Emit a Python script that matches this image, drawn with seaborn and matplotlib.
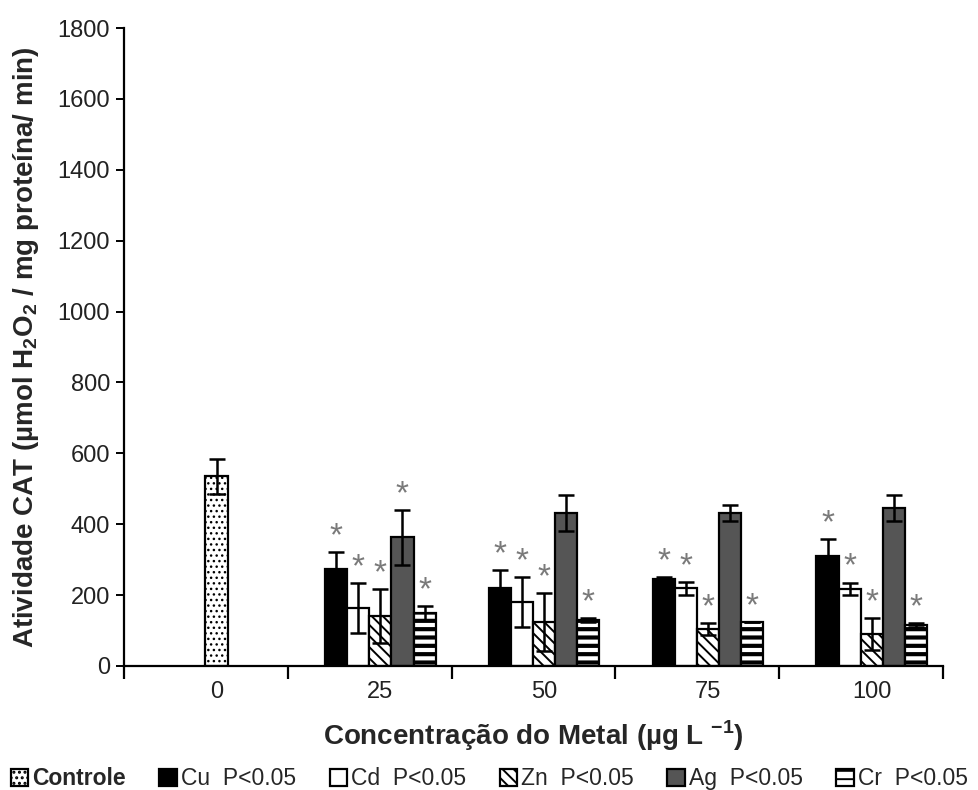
import numpy as np
import pandas as pd
import matplotlib
matplotlib.use("Agg")
import matplotlib.pyplot as plt
from matplotlib.patches import Patch
from matplotlib.ticker import FixedLocator, NullFormatter
import seaborn as sns

# ---------------- data ----------------
concentrations = ["0", "25", "50", "75", "100"]
metals = ["Cu", "Cd", "Zn", "Ag", "Cr"]

control_mean = [535]
control_err = [50]

cu_mean = [273, 219, 245, 310]
cu_err = [48, 51, 6, 48]
cd_mean = [163, 180, 219, 217]
cd_err = [70, 71, 18, 18]
zn_mean = [141, 124, 104, 90]
zn_err = [76, 82, 17, 45]
ag_mean = [363, 431, 431, 445]
ag_err = [77, 51, 23, 37]
cr_mean = [149, 130, 124, 115]
cr_err = [20, 5, 0, 5]

# significance marks (True = asterisk) per metal, for 25/50/75/100
cu_sig = [True, True, True, True]
cd_sig = [True, True, True, True]
zn_sig = [True, True, True, True]
ag_sig = [True, False, False, False]
cr_sig = [True, True, True, True]

legend_labels = ["Controle", "Cu  P<0.05", "Cd  P<0.05", "Zn  P<0.05", "Ag  P<0.05", "Cr  P<0.05"]

# ---------------- build table ----------------
bw = 0.135
means = {"Cu": cu_mean, "Cd": cd_mean, "Zn": zn_mean, "Ag": ag_mean, "Cr": cr_mean}
errs = {"Cu": cu_err, "Cd": cd_err, "Zn": zn_err, "Ag": ag_err, "Cr": cr_err}
sigs = {"Cu": cu_sig, "Cd": cd_sig, "Zn": zn_sig, "Ag": ag_sig, "Cr": cr_sig}
rows = [dict(pos=0.0, value=control_mean[0], err=control_err[0], series="Controle", sig=False)]
for k, m in enumerate(metals):
    for g in range(4):
        rows.append(dict(pos=round(g + 1 + (k - 2) * bw, 4), value=means[m][g],
                         err=errs[m][g], series=m, sig=sigs[m][g]))
df = pd.DataFrame(rows)

series_order = ["Controle"] + metals
colors = {"Controle": "white", "Cu": "black", "Cd": "white", "Zn": "white",
          "Ag": "#555555", "Cr": "white"}
hatches = {"Controle": "...", "Cu": None, "Cd": None, "Zn": "\\\\\\", "Ag": None, "Cr": "--"}
hatch_lw = {"Controle": 1.0, "Cu": 1.0, "Cd": 1.0, "Zn": 1.4, "Ag": 1.0, "Cr": 3.0}

# ---------------- figure ----------------
sns.set_theme(style="ticks")
plt.rcParams["font.family"] = ["Liberation Sans", "DejaVu Sans"]
plt.rcParams["mathtext.fontset"] = "custom"
plt.rcParams["mathtext.rm"] = "Liberation Sans"
plt.rcParams["mathtext.bf"] = "Liberation Sans:bold"
plt.rcParams["hatch.linewidth"] = 1.4

fig = plt.figure(figsize=(9.79, 7.90), dpi=100)
ax = fig.add_axes([124 / 979, 1 - 666 / 790, (943 - 124) / 979, (666 - 28) / 790])

sns.barplot(data=df, x="pos", y="value", hue="series", hue_order=series_order,
            palette=colors, native_scale=True, dodge=False, width=1.0,
            errorbar=None, legend=False, ax=ax, edgecolor="black", linewidth=1.6)

for cont, s in zip(ax.containers, series_order):
    for p in cont.patches:
        p.set_facecolor(colors[s])
        p.set_edgecolor("black")
        p.set_linewidth(1.6)
        if hatches[s]:
            p.set_hatch(hatches[s])
            if hasattr(p, "set_hatch_linewidth"):
                p.set_hatch_linewidth(hatch_lw[s])

# error bars
ax.errorbar(df["pos"], df["value"], yerr=df["err"], fmt="none", ecolor="black",
            elinewidth=1.8, capsize=5.5, capthick=1.8, zorder=5)

# asterisks
for _, r in df[df["sig"]].iterrows():
    ax.annotate("*", xy=(r["pos"], r["value"] + r["err"]), xytext=(0, 0),
                textcoords="offset points", ha="center", va="bottom",
                fontsize=24, color="#7a7a7a")

# axes formatting
ax.set_xlim(-0.565, 4.435)
ax.set_ylim(0, 1800)
ax.set_yticks(np.arange(0, 1801, 200))
ax.set_xticks(range(5))
ax.set_xticklabels(concentrations)
ax.xaxis.set_minor_locator(FixedLocator([i + 0.435 for i in range(-1, 5)]))
ax.xaxis.set_minor_formatter(NullFormatter())
ax.tick_params(axis="x", which="major", length=0, labelsize=17, pad=11, colors="#222222")
ax.tick_params(axis="x", which="minor", length=9, width=1.6, direction="out", color="black")
ax.tick_params(axis="y", length=6, width=1.4, labelsize=17, pad=4, colors="#222222")
ax.tick_params(axis="y", color="black")
sns.despine(ax=ax)
for sp in ["left", "bottom"]:
    ax.spines[sp].set_linewidth(1.6)
    ax.spines[sp].set_color("black")

ax.set_xlabel("Concentração do Metal (µg L $^{\\mathbf{-1}}$)", fontsize=20,
              fontweight="bold", labelpad=11)
ax.set_ylabel("Atividade CAT (µmol H$_\\mathbf{2}$O$_\\mathbf{2}$ / mg proteína/ min)",
              fontsize=20, fontweight="bold", labelpad=12)

# legend
handles = []
for s in series_order:
    h = Patch(facecolor=colors[s], edgecolor="black", linewidth=1.6,
              hatch=hatches[s] if hatches[s] else None)
    handles.append(h)
leg = fig.legend(handles, legend_labels, loc="lower center", bbox_to_anchor=(0.5, -0.018),
                 ncol=6, frameon=False, fontsize=16.5,
                 handlelength=0.75, handleheight=0.75,
                 handletextpad=0.2, columnspacing=1.45, borderaxespad=0.2)
leg.get_texts()[0].set_fontweight("bold")

fig.savefig("out.png", dpi=100)
